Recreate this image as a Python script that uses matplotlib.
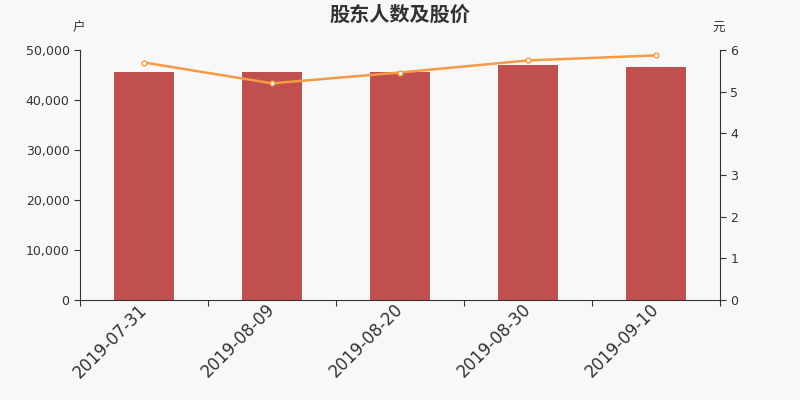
import matplotlib
matplotlib.use('Agg')
import matplotlib.pyplot as plt
from matplotlib.ticker import FuncFormatter

plt.rcParams['font.family'] = ['DejaVu Sans', 'Noto Sans CJK SC']

# data
dates = ['2019-07-31', '2019-08-09', '2019-08-20', '2019-08-30', '2019-09-10']
holders = [45700, 45700, 45650, 47050, 46650]
price = [5.70, 5.20, 5.46, 5.75, 5.87]

bg = '#f8f8f8'
txt = '#333333'
bar_color = '#c0504d'
line_color = '#f59a45'

fig = plt.figure(figsize=(8, 4), dpi=100, facecolor=bg)
ax = fig.add_axes([0.1, 0.25, 0.8, 0.625])
ax.set_facecolor(bg)

x = list(range(len(dates)))
ax.bar(x, holders, width=0.47, color=bar_color, zorder=2)
ax.set_xlim(-0.5, len(dates) - 0.5)
ax.set_ylim(0, 50000)
ax.set_yticks(range(0, 50001, 10000))
ax.yaxis.set_major_formatter(FuncFormatter(lambda v, p: f'{int(v):,}'))

# ticks on category boundaries, labels at centers
ax.set_xticks([i - 0.5 for i in range(len(dates) + 1)])
ax.set_xticklabels([])
ax.set_xticks(x, minor=True)
ax.set_xticklabels(dates, minor=True, rotation=45, ha='right', va='center',
                   rotation_mode='anchor', fontsize=12, color=txt)
ax.tick_params(axis='x', which='minor', length=0, pad=5)
ax.tick_params(axis='x', which='major', length=4, color=txt)
ax.tick_params(axis='y', length=4, color=txt, labelcolor=txt, labelsize=9)

for s in ['top', 'right']:
    ax.spines[s].set_visible(False)
for s in ['left', 'bottom']:
    ax.spines[s].set_color(txt)

ax2 = ax.twinx()
ax2.plot(x, price, color=line_color, lw=1.8, marker='o', markersize=3.5,
         markerfacecolor='white', markeredgecolor=line_color, markeredgewidth=1, zorder=3)
ax2.set_ylim(0, 6)
ax2.set_yticks(range(0, 7))
ax2.tick_params(axis='y', length=4, color=txt, labelcolor=txt, labelsize=9)
for s in ['top', 'left', 'bottom']:
    ax2.spines[s].set_visible(False)
ax2.spines['right'].set_color(txt)

fig.text(0.5, 0.965, '股东人数及股价', ha='center', va='center', fontsize=14.5,
         fontweight='bold', color=txt, family=['Noto Sans CJK SC', 'DejaVu Sans'])
fig.text(0.098, 0.93, '户', ha='center', va='center', fontsize=9, color=txt,
         family=['Noto Sans CJK SC'])
fig.text(0.898, 0.93, '元', ha='center', va='center', fontsize=9, color=txt,
         family=['Noto Sans CJK SC'])

fig.savefig('out.png', dpi=100, facecolor=bg)
